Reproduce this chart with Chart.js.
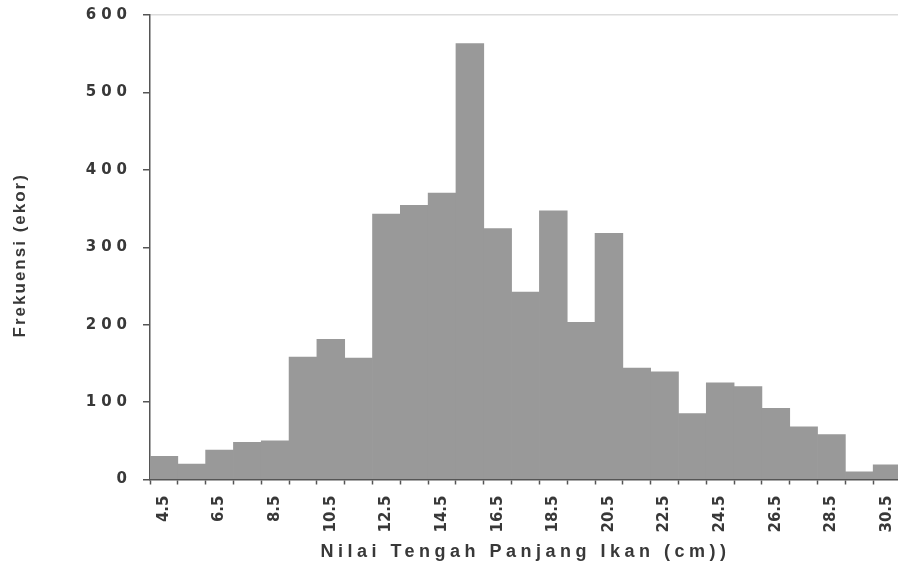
<!DOCTYPE html>
<html>
<head>
<meta charset="utf-8">
<script src="https://cdn.jsdelivr.net/npm/chart.js@4.4.1/dist/chart.umd.min.js"></script>
<style>
  html, body { margin: 0; padding: 0; background: #ffffff; overflow: hidden; }
  #wrap { width: 902px; height: 577px; position: relative; }
</style>
</head>
<body>
<div id="wrap"><canvas id="c"></canvas></div>
<script>
// Length classes (mid-point, cm) and number of fish caught in each class
const lengthClasses = ['4.5', '5.5', '6.5', '7.5', '8.5', '9.5', '10.5', '11.5', '12.5',
  '13.5', '14.5', '15.5', '16.5', '17.5', '18.5', '19.5', '20.5', '21.5', '22.5',
  '23.5', '24.5', '25.5', '26.5', '27.5', '28.5', '29.5', '30.5'];
const fishCounts = [30, 20, 38, 48, 50, 158, 181, 157, 343,
  354, 370, 563, 324, 242, 347, 203, 318, 144, 139,
  85, 125, 120, 92, 68, 58, 10, 19];
const yTickValues = [0, 100, 200, 300, 400, 500, 600];
const xAxisTitle = 'Nilai Tengah Panjang Ikan (cm))';
const yAxisTitle = 'Frekuensi (ekor)';

const AXIS = '#555555';
const TEXT = '#383838';
const BAR = '#999999';

// Wraps a scale's text drawing so it uses its own letter spacing
const spacedText = {
  id: 'spacedText',
  afterLayout(chart) {
    const wrap = (scale, name, spacing, dy) => {
      const key = '_plain_' + name;
      if (!scale[key]) scale[key] = scale[name];
      const plain = scale[key];
      scale[name] = function (...args) {
        const ctx = this.ctx;
        ctx.save();
        ctx.letterSpacing = spacing + 'px';
        if (dy) ctx.translate(0, dy);
        plain.apply(this, args);
        ctx.restore();
      };
    };
    wrap(chart.scales.y, 'drawLabels', 5, 0);
    wrap(chart.scales.y, 'drawTitle', 2, 8);
    wrap(chart.scales.x, 'drawLabels', 0, 0);
    wrap(chart.scales.x, 'drawTitle', 4.5, 0);
  }
};

new Chart(document.getElementById('c'), {
  type: 'bar',
  data: {
    labels: lengthClasses,
    datasets: [{
      data: fishCounts,
      backgroundColor: BAR,
      borderWidth: 0,
      barPercentage: 1.0,
      categoryPercentage: 1.0
    }]
  },
  plugins: [spacedText],
  options: {
    responsive: true,
    maintainAspectRatio: false,
    animation: false,
    layout: { padding: { top: 15, right: 1, left: 0, bottom: 0 } },
    plugins: {
      legend: { display: false },
      tooltip: { enabled: false }
    },
    scales: {
      x: {
        offset: true,
        border: { display: true, color: AXIS, width: 1.5 },
        grid: {
          display: true,
          offset: true,
          drawOnChartArea: false,
          drawTicks: true,
          tickLength: 5,
          tickColor: AXIS,
          tickWidth: 1.5
        },
        ticks: {
          autoSkip: false,
          maxRotation: 90,
          minRotation: 90,
          padding: 11,
          color: TEXT,
          font: { family: 'DejaVu Sans', weight: 'bold', size: 15 },
          callback: (v, i) => (i % 2 === 0 ? lengthClasses[i] : '')
        },
        title: {
          display: true,
          text: xAxisTitle,
          color: TEXT,
          font: { family: 'Liberation Sans', weight: 'bold', size: 18 },
          padding: { top: 0, bottom: 14 }
        },
        afterFit: (s) => { s.height = 97.5; s.paddingLeft = 0; s.paddingRight = 0; }
      },
      y: {
        min: 0,
        max: 600,
        afterBuildTicks: (s) => { s.ticks = yTickValues.map(v => ({ value: v })); },
        border: { display: true, color: AXIS, width: 1.5 },
        grid: {
          display: true,
          drawOnChartArea: true,
          color: (ctx) => (ctx.tick && ctx.tick.value === 600 ? '#dcdcdc' : 'rgba(0,0,0,0)'),
          lineWidth: 1.5,
          drawTicks: true,
          tickLength: 7,
          tickColor: AXIS,
          tickWidth: 1.5
        },
        ticks: {
          padding: 11,
          color: TEXT,
          font: { family: 'DejaVu Sans', weight: 'bold', size: 15 }
        },
        title: {
          display: true,
          text: yAxisTitle,
          color: TEXT,
          font: { family: 'Liberation Sans', weight: 'bold', size: 17 },
          padding: { top: 10, bottom: 0 }
        },
        afterFit: (s) => { s.width = 150; s.paddingTop = 0; s.paddingBottom = 0; }
      }
    }
  }
});
</script>
</body>
</html>
